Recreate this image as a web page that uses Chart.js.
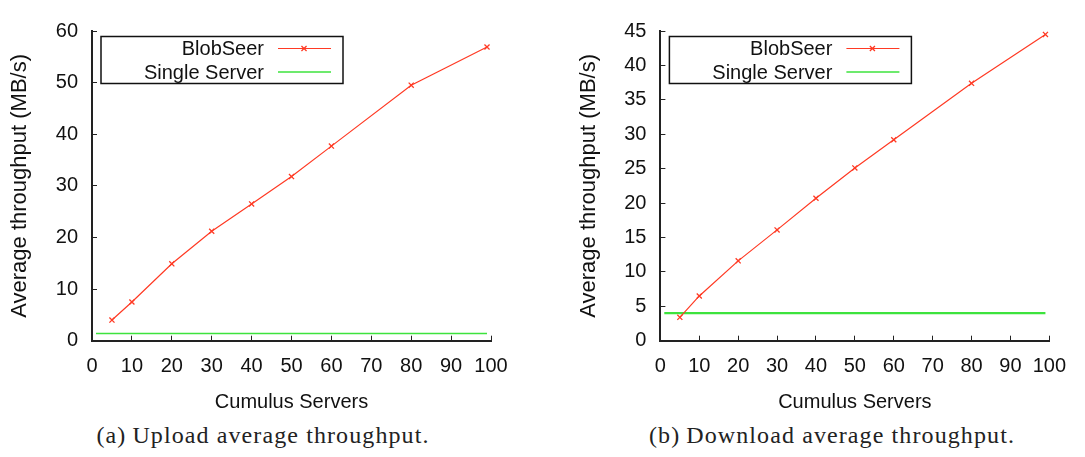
<!DOCTYPE html>
<html><head><meta charset="utf-8">
<script src="https://cdn.jsdelivr.net/npm/chart.js@4.4.1/dist/chart.umd.min.js"></script>
<style>
html,body{margin:0;padding:0;background:#fff;width:1085px;height:457px;overflow:hidden;position:relative;}
canvas{position:absolute;top:0;}
#c1{left:0px}
#c2{left:545px}
.cap{position:absolute;top:423px;font-family:"Liberation Serif","Times New Roman",serif;font-size:24px;line-height:24px;letter-spacing:1.1px;color:#222;white-space:nowrap;transform:translateX(-50%);}
.cap .g{margin-left:6px;}
</style></head><body>
<canvas id="c1" width="545" height="420"></canvas>
<canvas id="c2" width="540" height="420"></canvas>
<div class="cap" style="left:263px"><span>(a)</span><span class="g">Upload average throughput.</span></div>
<div class="cap" style="left:832px"><span>(b)</span><span class="g">Download average throughput.</span></div>
<script>
// ---- data ----
const servers = [5, 10, 20, 30, 40, 50, 60, 80, 99];
const uploadBlobSeer = [4.0, 7.5, 14.9, 21.2, 26.5, 31.8, 37.7, 49.5, 56.9];
const downloadBlobSeer = [3.4, 6.5, 11.6, 16.1, 20.7, 25.1, 29.2, 37.4, 44.5];
const singleServerRange = [1, 99];
const uploadSingleServer = [1.4, 1.4];
const downloadSingleServer = [4.0, 4.0];
const seriesLabels = ['BlobSeer', 'Single Server'];
const xTitle = 'Cumulus Servers';
const yTitle = 'Average throughput (MB/s)';
const xTicks = [0, 100, 10];
const uploadYTicks = [0, 60, 10];
const downloadYTicks = [0, 45, 5];

// ---- helpers ----
const FONT = '"Liberation Sans", Arial, Helvetica, sans-serif';
const RED = '#ff3a24';
const GREEN = '#3de33d';
const pts = (xs, ys) => xs.map((x, i) => ({x: x, y: ys[i]}));

const boxLegend = {
  id: 'boxLegend',
  afterDraw(chart) {
    const ctx = chart.ctx, a = chart.chartArea;
    const L = a.left + 9, R = a.left + 251, T = a.top + 5.5, B = a.top + 52.5;
    ctx.save();
    ctx.lineWidth = 1.5;
    ctx.strokeStyle = '#111';
    ctx.strokeRect(L, T, R - L, B - T);
    ctx.font = '20px ' + FONT;
    ctx.textAlign = 'right';
    ctx.textBaseline = 'middle';
    const rows = [T + 12, T + 35.5];
    chart.data.datasets.forEach((ds, i) => {
      const y = rows[i];
      ctx.fillStyle = '#111';
      ctx.fillText(ds.label, a.left + 172, y + 1);
      ctx.strokeStyle = ds.borderColor;
      ctx.lineWidth = Math.min(ds.borderWidth, 1.5);
      ctx.beginPath();
      ctx.moveTo(a.left + 186, y);
      ctx.lineTo(a.left + 239, y);
      ctx.stroke();
      if (ds.pointRadius > 0) {
        ctx.lineWidth = ds.pointBorderWidth;
        Chart.helpers.drawPoint(ctx, {pointStyle: ds.pointStyle, rotation: 0, radius: ds.pointRadius, borderWidth: ds.pointBorderWidth}, a.left + 212, y);
      }
    });
    ctx.restore();
  }
};

function makeChart(id, blob, single, yT, cfg) {
  return new Chart(document.getElementById(id), {
    type: 'line',
    data: {
      datasets: [
        {label: seriesLabels[0], data: pts(servers, blob), borderColor: RED, backgroundColor: RED,
         borderWidth: 1.2, pointStyle: 'crossRot', pointRadius: 3.6, pointBorderWidth: 1.3,
         pointBorderColor: RED, fill: false, tension: 0},
        {label: seriesLabels[1], data: pts(singleServerRange, single), borderColor: GREEN,
         borderWidth: cfg.greenWidth, pointRadius: 0, fill: false, tension: 0}
      ]
    },
    options: {
      responsive: false, animation: false, devicePixelRatio: 1,
      layout: {padding: {left: 0, top: 16.5, right: cfg.padRight, bottom: 0}},
      plugins: {legend: {display: false}, tooltip: {enabled: false}},
      scales: {
        x: {
          type: 'linear', min: xTicks[0], max: xTicks[1],
          ticks: {stepSize: xTicks[2], padding: 19, color: '#111', font: {family: FONT, size: 20}, maxRotation: 0},
          grid: {drawOnChartArea: false, drawTicks: true, tickLength: -5, color: '#222', lineWidth: 1},
          border: {display: true, color: '#222', width: 2},
          title: {display: true, text: xTitle, color: '#111', font: {family: FONT, size: 20}, padding: {top: 0, bottom: 6}},
          afterFit: s => { s.height = 420 - 340.7; }
        },
        y: {
          type: 'linear', min: yT[0], max: yT[1],
          ticks: {stepSize: yT[2], padding: 19, color: '#111', font: {family: FONT, size: 20}},
          grid: {drawOnChartArea: false, drawTicks: true, tickLength: -5, color: '#222', lineWidth: 1},
          border: {display: true, color: '#222', width: 2},
          title: {display: true, text: yTitle, color: '#111', font: {family: FONT, size: 22}, padding: {top: cfg.yTitlePad, bottom: 0}},
          afterFit: s => { s.width = cfg.yWidth; }
        }
      }
    },
    plugins: [boxLegend]
  });
}

makeChart('c1', uploadBlobSeer, uploadSingleServer, uploadYTicks, {padRight: 54, yWidth: 92, yTitlePad: 6.8, greenWidth: 1.4});
makeChart('c2', downloadBlobSeer, downloadSingleServer, downloadYTicks, {padRight: 23.5, yWidth: 115.4, yTitlePad: 30.8, greenWidth: 2.2});
</script>
</body></html>
